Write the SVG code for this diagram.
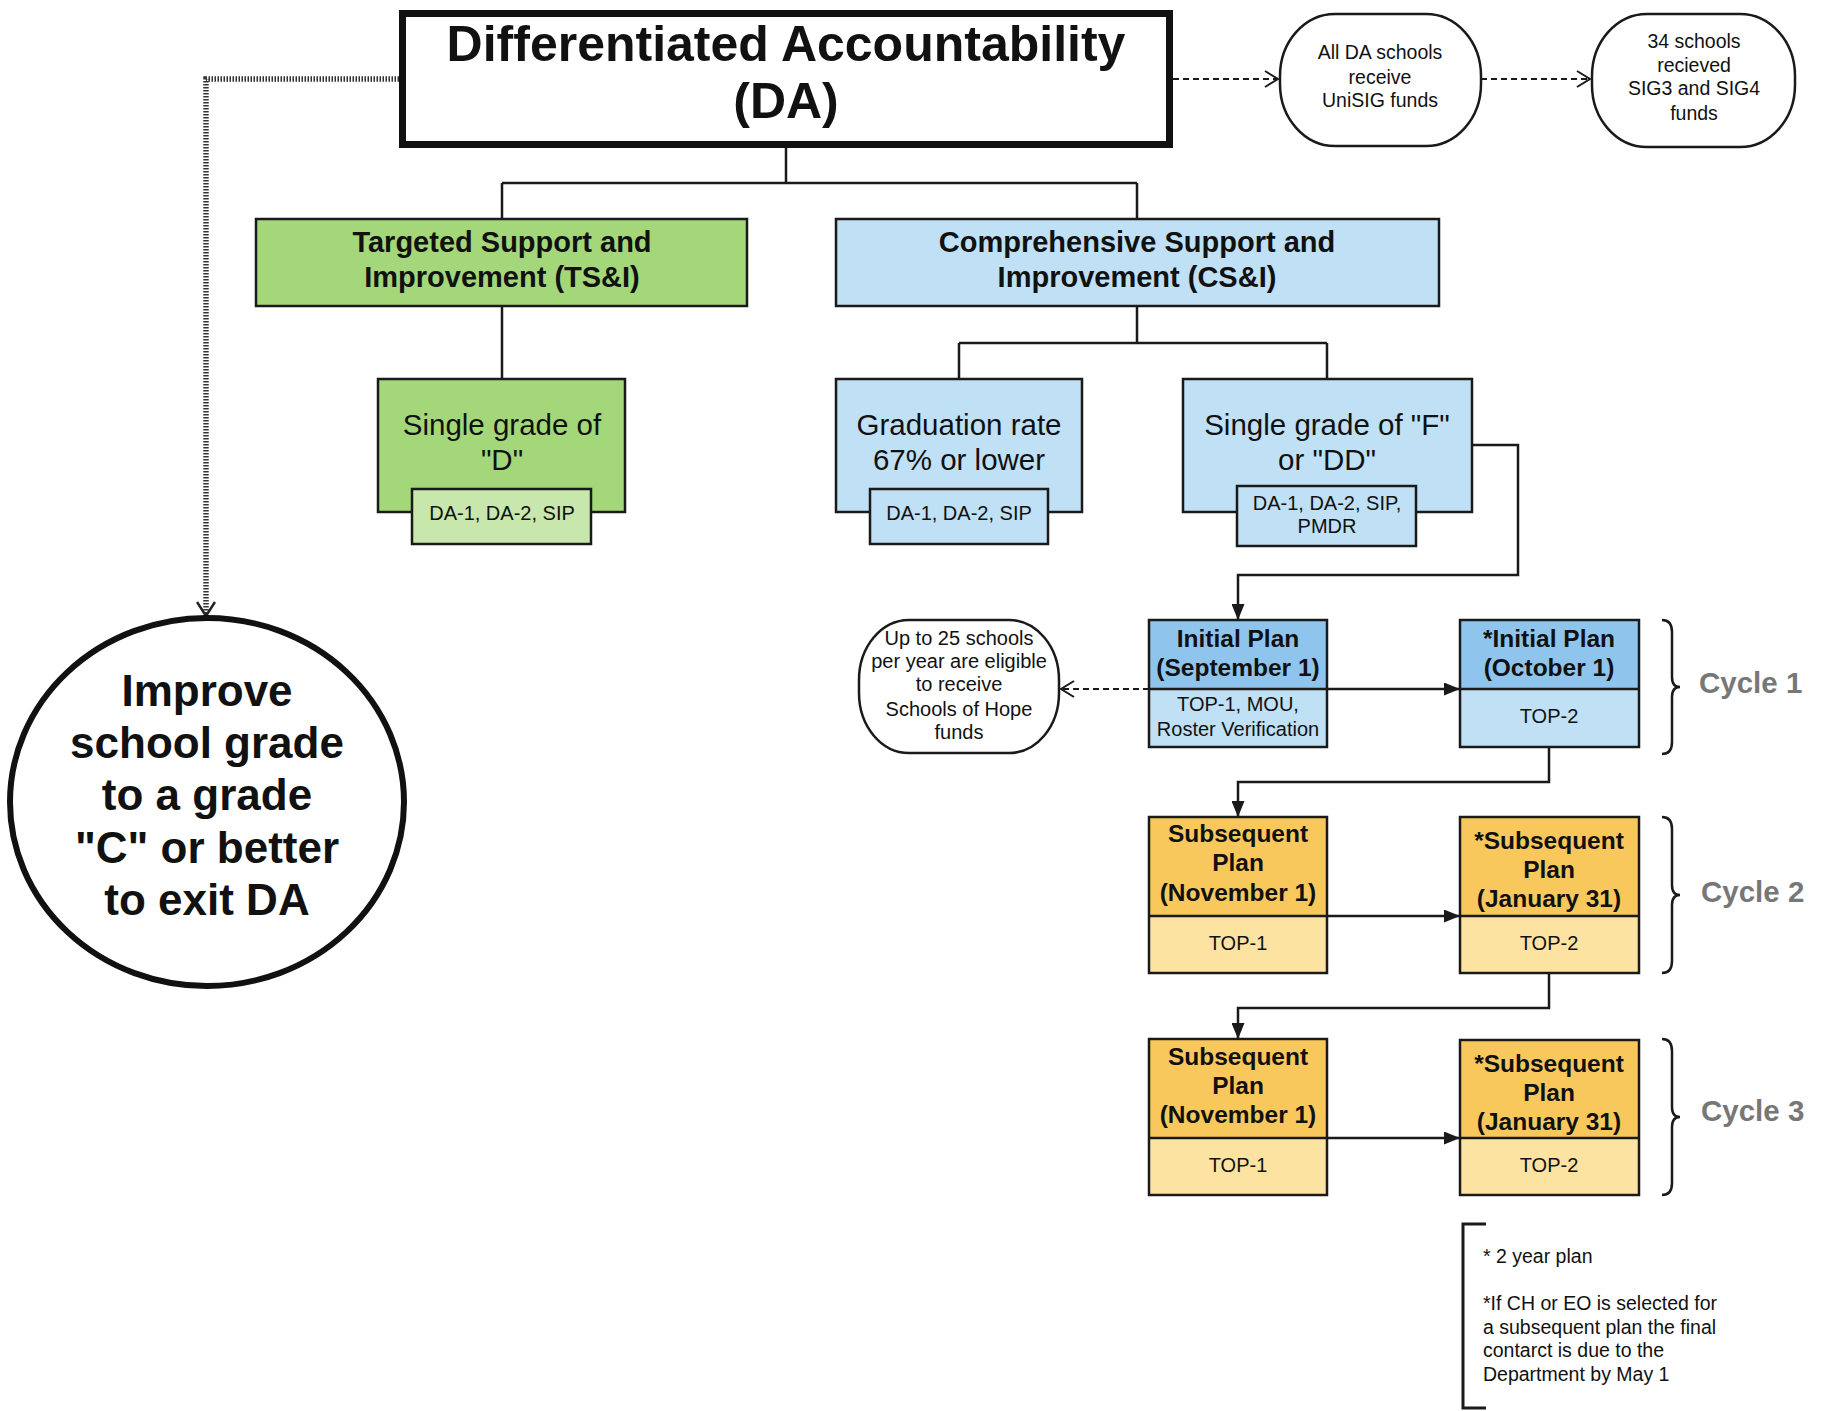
<svg xmlns="http://www.w3.org/2000/svg" width="1825" height="1411" viewBox="0 0 1825 1411">
<style>
text{font-family:"Liberation Sans",Arial,sans-serif;fill:#111;text-anchor:middle}
.b{font-weight:bold}
.box{stroke:#1a1a1a;stroke-width:2.5}
.g1{fill:#a3d779}.g2{fill:#c7e7ad}
.bl1{fill:#bfe0f5}.bl2{fill:#8fc5ec}
.y1{fill:#f8c85c}.y2{fill:#fde3a2}
.ln{fill:none;stroke:#1a1a1a;stroke-width:2.5}
.dash{fill:none;stroke:#1a1a1a;stroke-width:2;stroke-dasharray:6 4}
.cyc{font-weight:bold;fill:#777;text-anchor:start;font-size:29.5px}
.brace{fill:none;stroke:#1a1a1a;stroke-width:2.5}
.note{text-anchor:start;font-size:19.5px}
.t3{font-size:29.5px}
.sm{font-size:20px}
.hd{font-size:24.5px;font-weight:bold}
.lo{font-size:20px}
</style>
<defs>
<marker id="fa" markerWidth="16" markerHeight="13" refX="15" refY="6.5" orient="auto" markerUnits="userSpaceOnUse"><path d="M0,0 L16,6.5 L0,13 z" fill="#1a1a1a"/></marker>
<marker id="oa" markerWidth="16" markerHeight="18" refX="14" refY="9" orient="auto" markerUnits="userSpaceOnUse"><path d="M1,1 L14,9 L1,17" fill="none" stroke="#1a1a1a" stroke-width="2"/></marker>
<marker id="oa2" markerWidth="18" markerHeight="20" refX="15" refY="10" orient="auto" markerUnits="userSpaceOnUse"><path d="M1,1 L15,10 L1,19" fill="none" stroke="#222" stroke-width="2.5"/></marker>
</defs>
<rect width="1825" height="1411" fill="#fff"/>

<g id="connectors">
<path class="ln" d="M786,148 V183 M502,183 H1137 M502,183 V219 M1137,183 V219"/>
<path class="ln" d="M502,306 V379"/>
<path class="ln" d="M1137,306 V343 M959,343 H1327 M959,343 V379 M1327,343 V379"/>
<path class="ln" d="M1472,445 H1518 V575 H1238 V619" marker-end="url(#fa)"/>
<path class="ln" d="M1327,689 H1459" marker-end="url(#fa)"/>
<path class="dash" d="M1149,689 H1061" marker-end="url(#oa)"/>
<path class="ln" d="M1549,747 V782 H1238 V816" marker-end="url(#fa)"/>
<path class="ln" d="M1327,916 H1459" marker-end="url(#fa)"/>
<path class="ln" d="M1549,973 V1008 H1238 V1038" marker-end="url(#fa)"/>
<path class="ln" d="M1327,1138 H1459" marker-end="url(#fa)"/>
<path class="dash" d="M1173,79 H1278" marker-end="url(#oa)"/>
<path class="dash" d="M1481,79 H1590" marker-end="url(#oa)"/>
<path d="M399,79 H206 V616" fill="none" stroke="#333" stroke-width="5.5" stroke-dasharray="1.5 1.5" marker-end="url(#oa2)"/>
</g>

<g id="da">
<rect x="402.5" y="13.5" width="767" height="131" fill="#fff" stroke="#111" stroke-width="7"/>
<text class="b" x="786" y="61" font-size="50">Differentiated Accountability</text>
<text class="b" x="786" y="118" font-size="50">(DA)</text>
</g>

<g id="unisig">
<rect x="1280" y="14" width="201" height="132" rx="55" ry="62" fill="#fff" stroke="#1a1a1a" stroke-width="2.5"/>
<text x="1380" y="59" font-size="19.5">All DA schools</text>
<text x="1380" y="84" font-size="19.5">receive</text>
<text x="1380" y="107" font-size="19.5">UniSIG funds</text>
</g>

<g id="sig">
<rect x="1592" y="14" width="203" height="133" rx="55" ry="62" fill="#fff" stroke="#1a1a1a" stroke-width="2.5"/>
<text x="1694" y="48" font-size="19.5">34 schools</text>
<text x="1694" y="72" font-size="19.5">recieved</text>
<text x="1694" y="95" font-size="19.5">SIG3 and SIG4</text>
<text x="1694" y="120" font-size="19.5">funds</text>
</g>

<g id="exit">
<ellipse cx="207" cy="802" rx="197" ry="184" fill="#fff" stroke="#111" stroke-width="6"/>
<text class="b" x="207" y="706" font-size="44">Improve</text>
<text class="b" x="207" y="758" font-size="44">school grade</text>
<text class="b" x="207" y="810" font-size="44">to a grade</text>
<text class="b" x="207" y="863" font-size="44">"C" or better</text>
<text class="b" x="207" y="915" font-size="44">to exit DA</text>
</g>

<g id="tsi">
<rect class="box g1" x="256" y="219" width="491" height="87"/>
<text class="b" x="502" y="252" font-size="29">Targeted Support and</text>
<text class="b" x="502" y="287" font-size="29">Improvement (TS&amp;I)</text>
</g>

<g id="csi">
<rect class="box bl1" x="836" y="219" width="603" height="87"/>
<text class="b" x="1137" y="252" font-size="29">Comprehensive Support and</text>
<text class="b" x="1137" y="287" font-size="29">Improvement (CS&amp;I)</text>
</g>

<g id="gradeD">
<rect class="box g1" x="378" y="379" width="247" height="133"/>
<text class="t3" x="502" y="435">Single grade of</text>
<text class="t3" x="502" y="470">"D"</text>
<rect class="box g2" x="412" y="489" width="179" height="55"/>
<text class="sm" x="502" y="520">DA-1, DA-2, SIP</text>
</g>

<g id="grad">
<rect class="box bl1" x="836" y="379" width="246" height="133"/>
<text class="t3" x="959" y="435">Graduation rate</text>
<text class="t3" x="959" y="470">67% or lower</text>
<rect class="box bl1" x="870" y="489" width="178" height="55"/>
<text class="sm" x="959" y="520">DA-1, DA-2, SIP</text>
</g>

<g id="gradeF">
<rect class="box bl1" x="1183" y="379" width="289" height="133"/>
<text class="t3" x="1327" y="435">Single grade of "F"</text>
<text class="t3" x="1327" y="470">or "DD"</text>
<rect class="box bl1" x="1237" y="486" width="179" height="60"/>
<text class="sm" x="1327" y="510">DA-1, DA-2, SIP,</text>
<text class="sm" x="1327" y="533">PMDR</text>
</g>

<g id="hope">
<rect x="859" y="620" width="200" height="133" rx="50" ry="60" fill="#fff" stroke="#1a1a1a" stroke-width="2.5"/>
<text class="sm" x="959" y="645">Up to 25 schools</text>
<text class="sm" x="959" y="668">per year are eligible</text>
<text class="sm" x="959" y="691">to receive</text>
<text class="sm" x="959" y="716">Schools of Hope</text>
<text class="sm" x="959" y="739">funds</text>
</g>

<g id="initSep">
<rect class="bl2" x="1149" y="620" width="178" height="69"/>
<rect class="bl1" x="1149" y="689" width="178" height="58"/>
<rect class="box" x="1149" y="620" width="178" height="127" fill="none"/>
<line class="ln" x1="1149" y1="689" x2="1327" y2="689"/>
<text class="hd" x="1238" y="647">Initial Plan</text>
<text class="hd" x="1238" y="676">(September 1)</text>
<text class="lo" x="1238" y="711">TOP-1, MOU,</text>
<text class="lo" x="1238" y="736">Roster Verification</text>
</g>

<g id="initOct">
<rect class="bl2" x="1460" y="620" width="179" height="69"/>
<rect class="bl1" x="1460" y="689" width="179" height="58"/>
<rect class="box" x="1460" y="620" width="179" height="127" fill="none"/>
<line class="ln" x1="1460" y1="689" x2="1639" y2="689"/>
<text class="hd" x="1549" y="647">*Initial Plan</text>
<text class="hd" x="1549" y="676">(October 1)</text>
<text class="lo" x="1549" y="723">TOP-2</text>
</g>

<g id="subNov2">
<rect class="y1" x="1149" y="817" width="178" height="99"/>
<rect class="y2" x="1149" y="916" width="178" height="57"/>
<rect class="box" x="1149" y="817" width="178" height="156" fill="none"/>
<line class="ln" x1="1149" y1="916" x2="1327" y2="916"/>
<text class="hd" x="1238" y="842">Subsequent</text>
<text class="hd" x="1238" y="871">Plan</text>
<text class="hd" x="1238" y="901">(November 1)</text>
<text class="lo" x="1238" y="950">TOP-1</text>
</g>

<g id="subJan2">
<rect class="y1" x="1460" y="817" width="179" height="99"/>
<rect class="y2" x="1460" y="916" width="179" height="57"/>
<rect class="box" x="1460" y="817" width="179" height="156" fill="none"/>
<line class="ln" x1="1460" y1="916" x2="1639" y2="916"/>
<text class="hd" x="1549" y="849">*Subsequent</text>
<text class="hd" x="1549" y="878">Plan</text>
<text class="hd" x="1549" y="907">(January 31)</text>
<text class="lo" x="1549" y="950">TOP-2</text>
</g>

<g id="subNov3">
<rect class="y1" x="1149" y="1039" width="178" height="99"/>
<rect class="y2" x="1149" y="1138" width="178" height="57"/>
<rect class="box" x="1149" y="1039" width="178" height="156" fill="none"/>
<line class="ln" x1="1149" y1="1138" x2="1327" y2="1138"/>
<text class="hd" x="1238" y="1065">Subsequent</text>
<text class="hd" x="1238" y="1094">Plan</text>
<text class="hd" x="1238" y="1123">(November 1)</text>
<text class="lo" x="1238" y="1172">TOP-1</text>
</g>

<g id="subJan3">
<rect class="y1" x="1460" y="1040" width="179" height="98"/>
<rect class="y2" x="1460" y="1138" width="179" height="57"/>
<rect class="box" x="1460" y="1040" width="179" height="155" fill="none"/>
<line class="ln" x1="1460" y1="1138" x2="1639" y2="1138"/>
<text class="hd" x="1549" y="1072">*Subsequent</text>
<text class="hd" x="1549" y="1101">Plan</text>
<text class="hd" x="1549" y="1130">(January 31)</text>
<text class="lo" x="1549" y="1172">TOP-2</text>
</g>

<g id="cycle1">
<path class="brace" d="M1662,620 Q1672,620 1672,632 L1672,677 Q1672,687 1680,687 Q1672,687 1672,697 L1672,742 Q1672,754 1662,754"/>
<text class="cyc" x="1699" y="693">Cycle 1</text>
</g>
<g id="cycle2">
<path class="brace" d="M1662,817 Q1672,817 1672,829 L1672,885 Q1672,895 1680,895 Q1672,895 1672,905 L1672,961 Q1672,973 1662,973"/>
<text class="cyc" x="1701" y="902">Cycle 2</text>
</g>
<g id="cycle3">
<path class="brace" d="M1662,1039 Q1672,1039 1672,1051 L1672,1107 Q1672,1117 1680,1117 Q1672,1117 1672,1127 L1672,1183 Q1672,1195 1662,1195"/>
<text class="cyc" x="1701" y="1121">Cycle 3</text>
</g>

<g id="notes">
<path d="M1486,1224 H1463 V1408 H1486" fill="none" stroke="#1a1a1a" stroke-width="3"/>
<text class="note" x="1483" y="1263">* 2 year plan</text>
<text class="note" x="1483" y="1310">*If CH or EO is selected for</text>
<text class="note" x="1483" y="1334">a subsequent plan the final</text>
<text class="note" x="1483" y="1357">contarct is due to the</text>
<text class="note" x="1483" y="1381">Department by May 1</text>
</g>
</svg>
